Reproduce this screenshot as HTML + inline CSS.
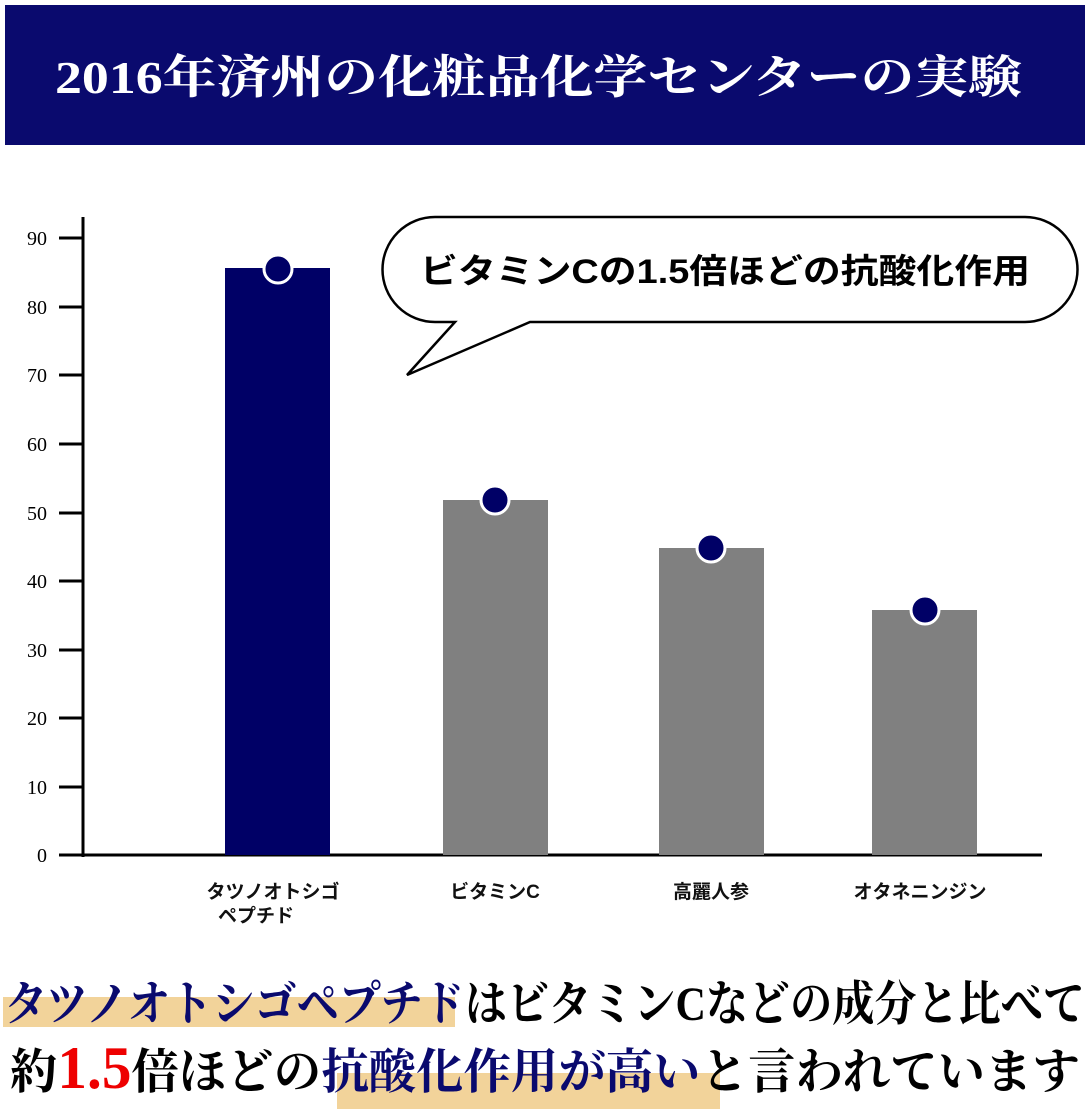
<!DOCTYPE html>
<html><head><meta charset="utf-8"><style>html,body{margin:0;padding:0;background:#fff}svg{display:block}</style></head>
<body>
<svg width="1090" height="1112" viewBox="0 0 1090 1112" xmlns="http://www.w3.org/2000/svg">
<rect x="5" y="5" width="1080" height="140" fill="#0a0a6e"/>
<text x="55" y="93" fill="#fff" font-family="Liberation Serif, Noto Serif CJK SC, serif" font-weight="bold" font-size="46" textLength="967" lengthAdjust="spacingAndGlyphs">2016年済州の化粧品化学センターの実験</text>
<g stroke="#000" stroke-width="3">
<line x1="83" y1="217" x2="83" y2="857"/>
<line x1="59" y1="855" x2="1042" y2="855"/>
<line x1="59" y1="238" x2="83" y2="238"/><line x1="59" y1="307" x2="83" y2="307"/><line x1="59" y1="375" x2="83" y2="375"/><line x1="59" y1="444" x2="83" y2="444"/><line x1="59" y1="513" x2="83" y2="513"/><line x1="59" y1="581" x2="83" y2="581"/><line x1="59" y1="650" x2="83" y2="650"/><line x1="59" y1="718" x2="83" y2="718"/><line x1="59" y1="787" x2="83" y2="787"/>
</g>
<g font-family="Liberation Serif, serif" font-size="20" text-anchor="end" fill="#000">
<text x="47" y="245">90</text><text x="47" y="314">80</text><text x="47" y="382">70</text><text x="47" y="451">60</text><text x="47" y="520">50</text><text x="47" y="588">40</text><text x="47" y="657">30</text><text x="47" y="725">20</text><text x="47" y="794">10</text><text x="47" y="862">0</text>
</g>
<rect x="225" y="268" width="105" height="587" fill="#000066"/>
<rect x="443" y="500" width="105" height="355" fill="#808080"/>
<rect x="659" y="548" width="105" height="307" fill="#808080"/>
<rect x="872" y="610" width="105" height="245" fill="#808080"/>
<g fill="#000066" stroke="#fff" stroke-width="3">
<circle cx="278" cy="269" r="14"/><circle cx="495" cy="500" r="14"/><circle cx="711" cy="548" r="14"/><circle cx="925" cy="610" r="14"/>
</g>
<path d="M435,217 H1025 A52,52 0 0 1 1025,322 H530 L407,375 L455,322 H435 A52,52 0 0 1 435,217 Z" fill="#fff" stroke="#000" stroke-width="2.5"/>
<text x="420" y="283" font-family="Liberation Sans, Noto Sans CJK JP, sans-serif" font-weight="bold" font-size="34" textLength="610" lengthAdjust="spacingAndGlyphs">ビタミンCの1.5倍ほどの抗酸化作用</text>
<g font-family="Liberation Sans, Noto Sans CJK JP, sans-serif" font-weight="bold" font-size="19" text-anchor="middle" fill="#111">
<text x="273" y="898">タツノオトシゴ</text><text x="256" y="922">ペプチド</text>
<text x="495" y="898">ビタミンC</text><text x="711" y="898">高麗人参</text><text x="920" y="898">オタネニンジン</text>
</g>
<rect x="3" y="997" width="452" height="30" fill="#f2d39a"/>
<rect x="337" y="1073" width="383" height="36" fill="#f2d39a"/>
<g font-family="Liberation Serif, Noto Serif CJK JP, serif" font-weight="bold" font-size="48">
<text x="5" y="1020" textLength="1080" lengthAdjust="spacingAndGlyphs"><tspan fill="#0a0a6e">タツノオトシゴペプチド</tspan><tspan fill="#000">はビタミンCなどの成分と比べて</tspan></text>
<text x="10" y="1088" textLength="1070" lengthAdjust="spacingAndGlyphs"><tspan fill="#000">約</tspan><tspan fill="#e00" font-size="60">1.5</tspan><tspan fill="#000">倍ほどの</tspan><tspan fill="#0a0a6e">抗酸化作用が高い</tspan><tspan fill="#000">と言われています</tspan></text>
</g>
</svg>
</body></html>
